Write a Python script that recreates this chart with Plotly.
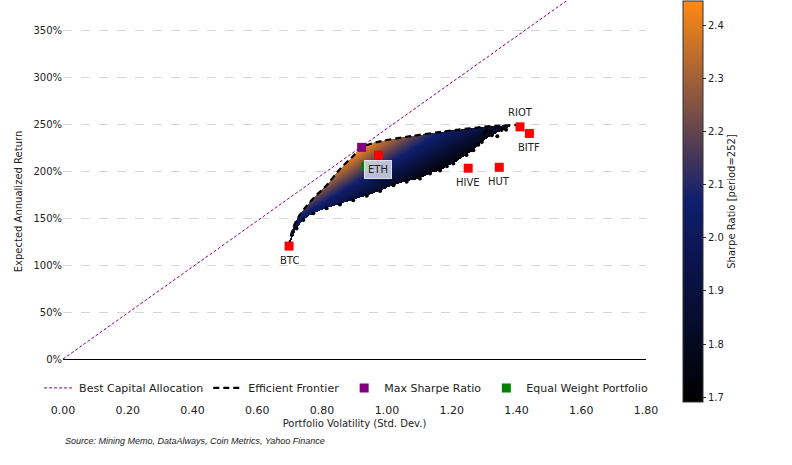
import numpy as np
import plotly.graph_objects as go

# ---------------- data ----------------
asset_names = ["BTC", "ETH", "HIVE", "HUT", "RIOT", "BITF"]
asset_vol = [0.698, 0.974, 1.251, 1.347, 1.411, 1.440]
asset_ret = [1.202, 2.170, 2.030, 2.040, 2.470, 2.400]
label_shift = [-14, -14, -14, -14, 14, -14]

max_sharpe_vol = [0.922]
max_sharpe_ret = [2.252]
equal_weight_vol = [0.935]
equal_weight_ret = [2.050]

cal_vol = [0.0, 1.62]
cal_ret = [0.0, 3.972]

front_vol = [0.698, 0.703, 0.711, 0.725, 0.742, 0.773, 0.814, 0.855, 0.896, 0.922,
             0.960, 1.000, 1.081, 1.185, 1.257, 1.330, 1.411]
front_ret = [1.200, 1.300, 1.400, 1.500, 1.585, 1.710, 1.850, 2.020, 2.160, 2.250,
             2.300, 2.330, 2.375, 2.425, 2.455, 2.480, 2.490]

lower_vol = [0.698, 0.721, 0.742, 0.773, 0.814, 0.855, 0.896, 0.938, 0.979, 1.020,
             1.061, 1.102, 1.133, 1.164, 1.185, 1.205, 1.246, 1.267, 1.282, 1.293,
             1.324, 1.354, 1.380]
lower_ret = [1.200, 1.390, 1.479, 1.550, 1.603, 1.645, 1.690, 1.737, 1.787, 1.850,
             1.886, 1.920, 1.975, 2.000, 2.050, 2.080, 2.170, 2.220, 2.280, 2.310,
             2.380, 2.430, 2.470]

edge_dot_vol = [0.721, 0.742, 0.773, 0.814, 0.855, 0.896, 0.938, 0.979, 1.020, 1.061,
                1.102, 1.133, 1.164, 1.185, 1.205, 1.246, 1.267, 1.282, 1.293, 1.308,
                1.324, 1.341, 1.354, 1.368, 1.300, 1.320]
edge_dot_ret = [1.390, 1.479, 1.550, 1.603, 1.645, 1.690, 1.737, 1.787, 1.850, 1.886,
                1.920, 1.975, 2.005, 2.050, 2.080, 2.170, 2.220, 2.280, 2.310, 2.430,
                2.380, 2.370, 2.436, 2.440, 2.400, 2.420]

y_tickvals = [0, 0.5, 1.0, 1.5, 2.0, 2.5, 3.0, 3.5]
y_ticktext = ["0%", "50%", "100%", "150%", "200%", "250%", "300%", "350%"]
x_tickvals = [0.0, 0.2, 0.4, 0.6, 0.8, 1.0, 1.2, 1.4, 1.6, 1.8]
x_ticktext = ["0.00", "0.20", "0.40", "0.60", "0.80", "1.00", "1.20", "1.40", "1.60", "1.80"]

cb_ticks = [1.7, 1.8, 1.9, 2.0, 2.1, 2.2, 2.3, 2.4]
sharpe_min, sharpe_max = 1.691, 2.446

# ---------------- portfolio cloud region, coloured by Sharpe ----------------
gx = np.linspace(0.69, 1.42, 420)
gy = np.linspace(1.18, 2.51, 300)
up = np.interp(gx, front_vol, front_ret)
lo = np.interp(gx, lower_vol, lower_ret)
inside_x = (gx >= lower_vol[0]) & (gx <= lower_vol[-1])
GX, GY = np.meshgrid(gx, gy)
mask = (GY <= up[None, :]) & (GY >= lo[None, :]) & inside_x[None, :]
Z = np.where(mask, GY / GX, np.nan)

FONT = "DejaVu Sans"
TXT = "#222222"

fig = go.Figure()

fig.add_trace(go.Heatmap(
    x=gx, y=gy, z=Z, coloraxis="coloraxis", hoverinfo="skip",
    showscale=True, zsmooth=False,
))

fig.add_trace(go.Scatter(
    x=edge_dot_vol, y=edge_dot_ret, mode="markers",
    marker=dict(color="black", size=4), showlegend=False, hoverinfo="skip",
))

fig.add_trace(go.Scatter(
    x=cal_vol, y=cal_ret, mode="lines", name="Best Capital Allocation", legendrank=1,
    line=dict(color="#8b008b", width=1, dash="3px,2px"),
))

fig.add_trace(go.Scatter(
    x=front_vol, y=front_ret, mode="lines", name="Efficient Frontier", legendrank=2,
    line=dict(color="black", width=2.2, dash="6px,4px", shape="spline"),
))

fig.add_trace(go.Scatter(
    x=asset_vol, y=asset_ret, mode="markers", showlegend=False,
    marker=dict(symbol="square", color="#ff0000", size=9),
))

fig.add_trace(go.Scatter(
    x=equal_weight_vol, y=equal_weight_ret, mode="markers", name="Equal Weight Portfolio",
    legendrank=4, marker=dict(symbol="square", color="#008000", size=9),
))

fig.add_trace(go.Scatter(
    x=max_sharpe_vol, y=max_sharpe_ret, mode="markers", name="Max Sharpe Ratio",
    legendrank=3, marker=dict(symbol="square", color="#800080", size=9),
))

annotations = []
for n, vx, vy, sh in zip(asset_names, asset_vol, asset_ret, label_shift):
    a = dict(x=vx, y=vy, xref="x", yref="y", text=n, showarrow=False,
             yshift=sh, font=dict(family=FONT, size=10, color=TXT))
    if n == "ETH":
        a.update(bgcolor="rgba(226,228,240,0.82)", bordercolor="rgba(235,235,245,0.9)",
                 borderwidth=1, borderpad=3)
    annotations.append(a)

annotations.append(dict(
    x=0, y=-0.097, xref="paper", yref="paper", xanchor="left", yanchor="middle",
    text="<i>Source: Mining Memo, DataAlways, Coin Metrics, Yahoo Finance</i>",
    showarrow=False, font=dict(family="Liberation Sans", size=9, color=TXT),
))

fig.update_layout(
    width=792, height=465,
    margin=dict(l=63, r=146, t=1, b=63, autoexpand=False),
    paper_bgcolor="white", plot_bgcolor="white",
    font=dict(family=FONT, size=10, color=TXT),
    showlegend=True,
    legend=dict(orientation="h", x=-0.041, xanchor="left", y=-0.001, yanchor="bottom",
                bgcolor="rgba(0,0,0,0)", font=dict(family=FONT, size=11, color=TXT),
                traceorder="normal"),
    coloraxis=dict(
        cmin=sharpe_min, cmax=sharpe_max,
        colorscale=[[0.0, "#000000"], [0.5, "#0f1e6e"], [1.0, "#ff8a14"]],
        colorbar=dict(
            x=1.0635, xanchor="left", xpad=0, y=0.5, yanchor="middle", ypad=0,
            len=1, lenmode="fraction",
            thickness=20, outlinewidth=1, outlinecolor="#333333",
            tickvals=cb_ticks, ticktext=[f"{t:.1f}" for t in cb_ticks],
            ticks="outside", ticklen=3, tickcolor="#333333",
            tickfont=dict(family=FONT, size=10, color=TXT),
            title=dict(text="Sharpe Ratio [period=252]", side="right",
                       font=dict(family=FONT, size=10, color=TXT)),
        ),
    ),
    xaxis=dict(range=[0, 1.8], tickvals=x_tickvals, ticktext=x_ticktext,
               showgrid=False, zeroline=False, showline=False, ticks="",
               tickfont=dict(family=FONT, size=11, color=TXT),
               title=dict(text="Portfolio Volatility (Std. Dev.)", standoff=3,
                          font=dict(family=FONT, size=10, color=TXT))),
    yaxis=dict(range=[-0.457, 3.809], tickvals=y_tickvals, ticktext=y_ticktext,
               showgrid=True, gridcolor="#d6d6d6", gridwidth=0.8, griddash="dash",
               zeroline=True, zerolinecolor="black", zerolinewidth=1,
               showline=False, ticks="",
               title=dict(text="Expected Annualized Return", standoff=8,
                          font=dict(family=FONT, size=10, color=TXT))),
    annotations=annotations,
)

fig.write_html("out.html")
